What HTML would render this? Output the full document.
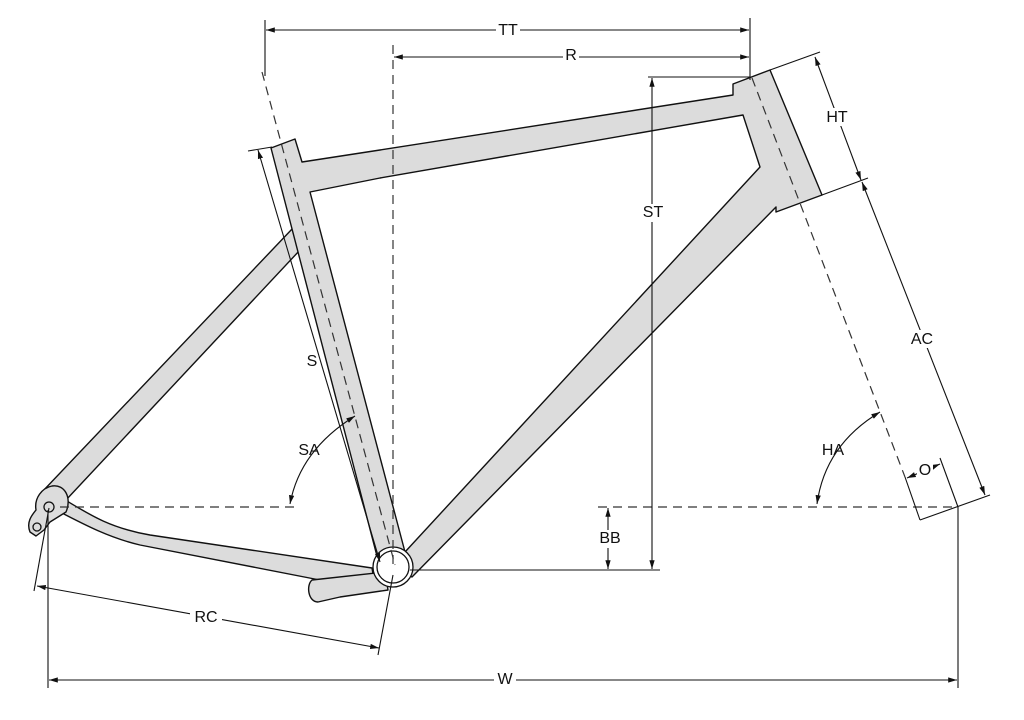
<!DOCTYPE html>
<html><head><meta charset="utf-8"><style>
html,body{margin:0;padding:0;background:#fff;}
svg{display:block;}
text{font-family:"Liberation Sans",sans-serif;font-size:16px;fill:#111;}
</style></head><body>
<svg width="1024" height="720" viewBox="0 0 1024 720" xmlns="http://www.w3.org/2000/svg">
<defs>
<marker id="a" viewBox="0 0 10 10" refX="10" refY="5" markerWidth="8" markerHeight="8" orient="auto-start-reverse"><path d="M0,2 L10,5 L0,8 z" fill="#111"/></marker>
</defs>
<g fill="#dcdcdc" stroke="#111" stroke-width="1.4" stroke-linejoin="round">
<!-- seat stay -->
<path d="M42,492 L293,228 L300,250 L66,500 Z"/>
<!-- chain stays -->
<path d="M62,498 C90,515 110,528 150,535 L372,568 L374,580 L330,582 L140,545 C110,538 85,525 60,512 Z"/>
<path d="M312,580 L385,572 L388,590 L340,597 L318,602 C308,602 306,585 312,580 Z"/>
<!-- main frame -->
<path fill-rule="evenodd" d="M271,148 L295,139 L302,162 L380,150 L733,95 L733,84 L770,70 L822,195 L776,212 L776,207 L412,577 L378,560 Z M310,192 L380,178 L743,115 L760,167 L405,552 Z"/>
<!-- dropout -->
<path d="M52,486 C65,484 72,498 66,512 L50,522 L44,530 L36,536 L30,532 C26,522 32,515 36,510 C34,498 42,488 52,486 Z"/>
</g>
<g fill="none" stroke="#111" stroke-width="1.3">
<circle cx="49" cy="507" r="5"/>
<circle cx="37" cy="527" r="4"/>
<circle cx="393" cy="567" r="20" fill="#fff"/>
<circle cx="393" cy="567" r="16"/>
</g>
<!-- dashed lines -->
<g fill="none" stroke="#333" stroke-width="1.2" stroke-dasharray="9,6">
<line x1="60" y1="507" x2="300" y2="507"/>
<line x1="598" y1="507" x2="958" y2="507"/>
<line x1="393" y1="45" x2="393" y2="567"/>
<line x1="262" y1="72" x2="395" y2="565"/>
<line x1="752" y1="78" x2="905" y2="477"/>
</g>
<!-- dimension lines -->
<g fill="none" stroke="#111" stroke-width="1.1">
<line x1="265" y1="20" x2="265" y2="76"/>
<line x1="750" y1="18" x2="750" y2="80"/>
<line x1="266" y1="30" x2="749" y2="30" marker-start="url(#a)" marker-end="url(#a)"/>
<line x1="394" y1="57" x2="749" y2="57" marker-start="url(#a)" marker-end="url(#a)"/>
<line x1="648" y1="77" x2="750" y2="77"/>
<line x1="652" y1="78" x2="652" y2="569" marker-start="url(#a)" marker-end="url(#a)"/>
<line x1="410" y1="570" x2="660" y2="570"/>
<line x1="608" y1="508" x2="608" y2="569" marker-start="url(#a)" marker-end="url(#a)"/>
<line x1="770" y1="70" x2="820" y2="52"/>
<line x1="822" y1="195" x2="868" y2="178"/>
<line x1="815" y1="57" x2="861" y2="180" marker-start="url(#a)" marker-end="url(#a)"/>
<line x1="862" y1="182" x2="985" y2="495" marker-start="url(#a)" marker-end="url(#a)"/>
<line x1="905" y1="477" x2="920" y2="520"/>
<line x1="920" y1="520" x2="990" y2="495"/>
<line x1="940" y1="458" x2="958" y2="507"/>
<line x1="907" y1="478" x2="940" y2="464" marker-start="url(#a)" marker-end="url(#a)"/>
<line x1="48" y1="510" x2="48" y2="688"/>
<line x1="958" y1="507" x2="958" y2="688"/>
<line x1="49" y1="680" x2="957" y2="680" marker-start="url(#a)" marker-end="url(#a)"/>
<line x1="49" y1="508" x2="34" y2="591"/>
<line x1="393" y1="575" x2="378" y2="655"/>
<line x1="37" y1="586" x2="379" y2="648" marker-start="url(#a)" marker-end="url(#a)"/>
<line x1="248" y1="151" x2="272" y2="147"/>
<line x1="258" y1="150" x2="380" y2="562" marker-start="url(#a)" marker-end="url(#a)"/>
<path d="M355,416 Q300,450 290,504" marker-start="url(#a)" marker-end="url(#a)"/>
<path d="M880,412 Q825,445 817,504" marker-start="url(#a)" marker-end="url(#a)"/>
</g>
<g text-anchor="middle" dominant-baseline="middle">
<rect x="496" y="22" width="24" height="16" fill="#fff"/><text x="508" y="31">TT</text>
<rect x="563" y="49" width="16" height="16" fill="#fff"/><text x="571" y="56">R</text>
<rect x="640" y="204" width="26" height="18" fill="#fff"/><text x="653" y="213">ST</text>
<rect x="598" y="530" width="26" height="18" fill="#fff"/><text x="610" y="539">BB</text>
<rect x="824" y="108" width="26" height="18" fill="#fff"/><text x="837" y="118">HT</text>
<rect x="908" y="330" width="28" height="18" fill="#fff"/><text x="922" y="340">AC</text>
<text x="833" y="451">HA</text>
<rect x="917" y="462" width="16" height="16" fill="#fff"/><text x="925" y="471">O</text>
<rect x="298" y="352" width="18" height="18" fill="#fff"/><text x="312" y="362">S</text>
<text x="309" y="451">SA</text>
<rect x="190" y="608" width="32" height="18" fill="#fff"/><text x="206" y="618">RC</text>
<rect x="494" y="671" width="22" height="18" fill="#fff"/><text x="505" y="680">W</text>
</g>
</svg>
</body></html>
